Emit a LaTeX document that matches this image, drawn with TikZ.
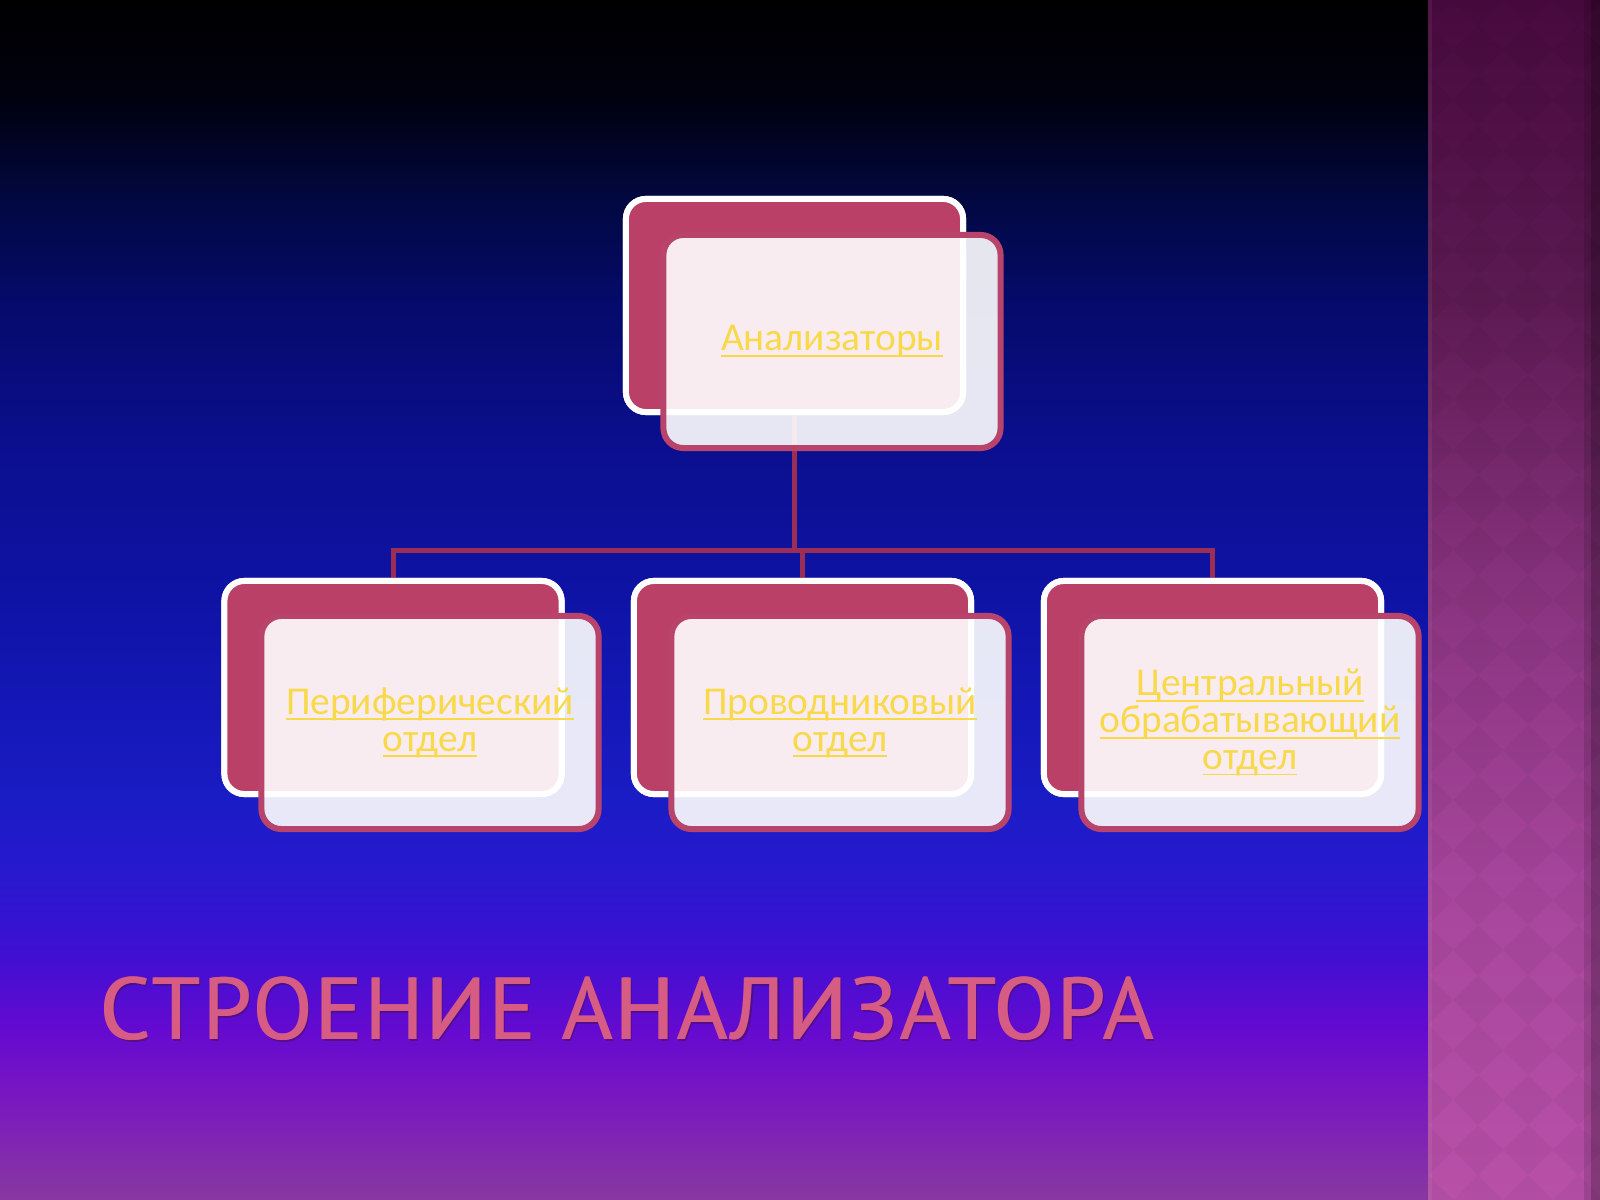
\documentclass[tikz,border=0pt]{standalone}
\usepackage{fontspec}
\setmainfont{Carlito}
\newfontfamily\titlefont[LetterSpace=2.7]{PT Sans}
\definecolor{c0}{HTML}{000000}
\definecolor{c100}{HTML}{00010F}
\definecolor{c200}{HTML}{020840}
\definecolor{c300}{HTML}{050A6A}
\definecolor{c450}{HTML}{0B0F8F}
\definecolor{c600}{HTML}{0F13A5}
\definecolor{c800}{HTML}{1A1CC5}
\definecolor{c880}{HTML}{2A18CF}
\definecolor{c950}{HTML}{3D10D2}
\definecolor{c1030}{HTML}{650AD0}
\definecolor{c1100}{HTML}{7A18C0}
\definecolor{c1200}{HTML}{8838A0}
\definecolor{s0}{HTML}{480A3E}
\definecolor{s300}{HTML}{5C1A52}
\definecolor{s600}{HTML}{8A3480}
\definecolor{s900}{HTML}{A8469E}
\definecolor{s1200}{HTML}{B850A8}
\definecolor{backfill}{HTML}{BB4068}
\definecolor{frontline}{HTML}{B8446C}
\definecolor{conncol}{HTML}{9C2E55}
\definecolor{labelcol}{HTML}{F8D94A}
\definecolor{titlecol}{HTML}{D65C84}
\definecolor{titleshade}{HTML}{4A1050}
\pgfdeclareverticalshading{bgmain}{100bp}{color(0bp)=(c1200); color(25bp)=(c1200); color(29.17bp)=(c1100); color(32.08bp)=(c1030); color(35.42bp)=(c950); color(38.33bp)=(c880); color(41.67bp)=(c800); color(50bp)=(c600); color(56.25bp)=(c450); color(62.5bp)=(c300); color(66.67bp)=(c200); color(70.83bp)=(c100); color(75bp)=(c0); color(100bp)=(c0)}
\pgfdeclareverticalshading{bgstrip}{100bp}{color(0bp)=(s1200); color(25bp)=(s1200); color(37.5bp)=(s900); color(50bp)=(s600); color(62.5bp)=(s300); color(75bp)=(s0); color(100bp)=(s0)}
\newcommand\ulx[1]{\leavevmode\setbox0\hbox{#1}\rlap{\rule[-1.7pt]{\wd0}{0.55pt}}\box0}
\tikzset{
  backbox/.style={draw=white, line width=6*0.2845pt, fill=backfill, rounded corners=0.2cm,
    minimum width=3.37cm, minimum height=2.13cm, inner sep=0pt},
  frontbox/.style={draw=frontline, line width=6*0.2845pt, fill=white, fill opacity=0.9, text opacity=1,
    rounded corners=0.2cm, minimum width=3.37cm, minimum height=2.13cm, inner sep=0pt,
    text=labelcol, align=center, font=\fontsize{11.2pt}{10.5pt}\selectfont},
  conn/.style={draw=conncol, line width=5*0.2845pt},
  titletext/.style={anchor=base west, inner sep=0pt, font=\titlefont\fontsize{25pt}{30pt}\selectfont},
}
\begin{document}
\begin{tikzpicture}[x=0.01cm, y=-0.01cm]
\useasboundingbox (0,0) rectangle (1600,1200);
% background
\shade[shading=bgmain] (0,0) rectangle (1428,1200);
\shade[shading=bgstrip] (1428,0) rectangle (1600,1200);
\begin{scope}
\clip (1428,0) rectangle (1600,1200);
\foreach \i in {0,...,4} {
  \foreach \j in {0,...,24} {
    \fill[black, opacity=0.035] (1428+50*\i,50*\j-25) -- ++(25,25) -- ++(-25,25) -- ++(-25,-25) -- cycle;
  }
}
\end{scope}
\fill[white, opacity=0.06] (1428,0) rectangle (1432,1200);
\fill[black, opacity=0.12] (1584,0) rectangle (1600,1200);
\fill[black, opacity=0.18] (1591,0) rectangle (1600,1200);
% nodes (back)
\node[backbox] (tb) at (794.5,305.5) {};
\node[backbox] (lb) at (393,687.5) {};
\node[backbox] (mb) at (802.5,687.5) {};
\node[backbox] (rb) at (1212.5,687.5) {};
\coordinate (bus) at (0,550);
% connectors
\draw[conn] (tb.south) -- (tb.south |- bus);
\draw[conn] (lb.north) |- (rb.north |- bus) -- (rb.north);
\draw[conn] (mb.north) -- (mb.north |- bus);
% redraw back boxes over connector ends
\node[backbox] at (tb) {};
\node[backbox] at (lb) {};
\node[backbox] at (mb) {};
\node[backbox] at (rb) {};
% front boxes
\node[frontbox] (tf) at (832,341.5) {\ulx{Анализаторы}};
\node[frontbox] (lf) at (430,722.5) {\ulx{Периферический}\\\ulx{отдел}};
\node[frontbox] (mf) at (840,722.5) {\ulx{Проводниковый}\\\ulx{отдел}};
\node[frontbox] (rf) at (1250,722.5) {\ulx{Центральный}\\\ulx{обрабатывающий}\\\ulx{отдел}};
% title
\node[titletext, text=titleshade, opacity=0.55] (titleshadow) at (101.5,1041) {СТРОЕНИЕ АНАЛИЗАТОРА};
\node[titletext, text=titlecol] (title) at (99,1039) {СТРОЕНИЕ АНАЛИЗАТОРА};
\node[titletext, text=titlecol] (titlebold) at (100.3,1039) {СТРОЕНИЕ АНАЛИЗАТОРА};
\end{tikzpicture}
\end{document}
